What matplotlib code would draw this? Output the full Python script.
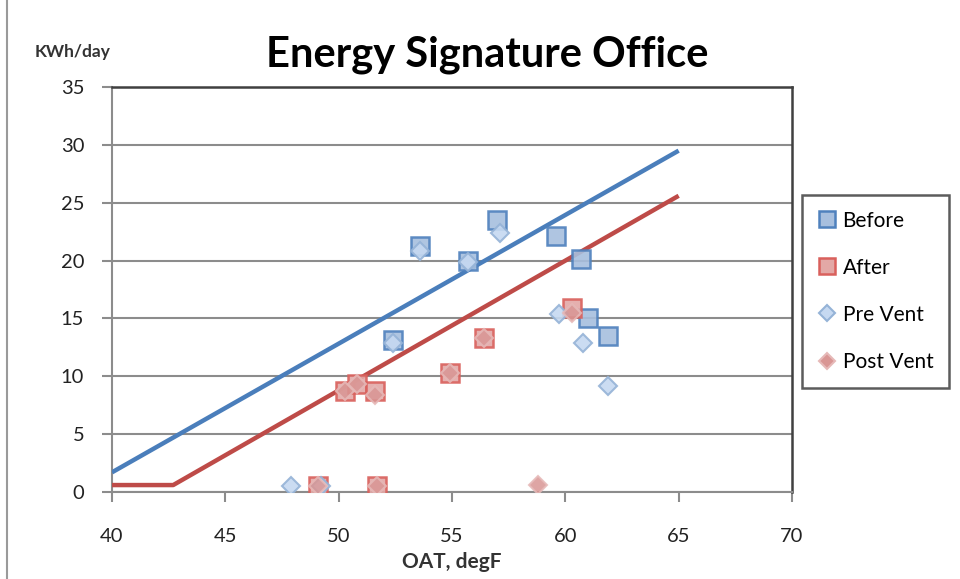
import matplotlib
matplotlib.use("Agg")
import matplotlib.pyplot as plt
from matplotlib.lines import Line2D

# ---- data ----
before_x = [53.6, 55.7, 57.0, 59.6, 60.7, 61.0, 61.9, 52.4]
before_y = [21.3, 20.0, 23.5, 22.1, 20.1, 15.0, 13.5, 13.1]

after_x = [50.3, 50.8, 51.6, 54.9, 56.4, 60.3, 49.1, 51.7]
after_y = [8.7, 9.3, 8.7, 10.3, 13.3, 15.9, 0.5, 0.5]

pre_x = [47.9, 49.2, 53.6, 55.7, 57.1, 52.4, 59.7, 60.8, 61.9]
pre_y = [0.5, 0.5, 20.8, 19.9, 22.4, 12.9, 15.4, 12.9, 9.2]

post_x = [60.3, 51.6, 58.8, 49.1, 51.7, 50.3, 50.8, 54.9, 56.4]
post_y = [15.5, 8.4, 0.6, 0.5, 0.5, 8.7, 9.3, 10.3, 13.3]

fit_before_x = [40, 65]
fit_before_y = [1.7, 29.5]
fit_after_x = [40, 42.7, 65]
fit_after_y = [0.6, 0.6, 25.6]

xticks = [40, 45, 50, 55, 60, 65, 70]
yticks = [0, 5, 10, 15, 20, 25, 30, 35]

FONT = "Lato"

fig = plt.figure(figsize=(9.6, 5.79), dpi=100)
ax = fig.add_axes([112/960, 1-492/579, (792-112)/960, (492-87)/579])

ax.plot(fit_before_x, fit_before_y, color="#4a7ebb", lw=3.2, zorder=3, solid_capstyle="butt")
ax.plot(fit_after_x, fit_after_y, color="#be4b48", lw=3.2, zorder=3, solid_capstyle="butt")

ax.plot(before_x, before_y, ls="none", marker="s", ms=13.5, mfc="#a7bfde", mec="#4f81bd", mew=1.8, alpha=0.9, zorder=4)
ax.plot(after_x, after_y, ls="none", marker="s", ms=13.5, mfc="#e3a8a6", mec="#d9605c", mew=1.8, alpha=0.9, zorder=4)
ax.plot(pre_x, pre_y, ls="none", marker="D", ms=9, mfc="#c6d9f1", mec="#95b3d7", mew=1.5, alpha=0.9, zorder=5)
ax.plot(post_x, post_y, ls="none", marker="D", ms=9, mfc="#d99694", mec="#e6b9b8", mew=1.5, alpha=0.85, zorder=5)

ax.set_xlim(40, 70)
ax.set_ylim(0, 35)
ax.set_xticks(xticks)
ax.set_yticks(yticks)
ax.grid(axis="y", color="#8c8c8c", lw=1.5, zorder=1)
ax.set_axisbelow(True)

for s in ["top", "right"]:
    ax.spines[s].set_color("#404040")
    ax.spines[s].set_linewidth(1.8)
for s in ["left", "bottom"]:
    ax.spines[s].set_color("#8c8c8c")
    ax.spines[s].set_linewidth(1.5)

ax.tick_params(axis="both", direction="out", length=7, width=1.5, color="#8c8c8c",
               labelsize=14.5, labelcolor="#222222")
ax.tick_params(axis="x", pad=19)
ax.tick_params(axis="y", pad=13)
for lab in ax.get_xticklabels() + ax.get_yticklabels():
    lab.set_family(FONT)

fig.text(452/960, 1-562/579, "OAT, degF", ha="center", va="center", fontsize=15,
         fontweight="bold", family=FONT, color="#333333")
fig.text(35/960, 1-52/579, "KWh/day", ha="left", va="center", fontsize=12.5,
         fontweight="bold", family=FONT, color="#333333")
fig.text(487/960, 1-55/579, "Energy Signature Office", ha="center", va="center",
         fontsize=30, fontweight="bold", family=FONT, color="black")

handles = [
    Line2D([], [], ls="none", marker="s", ms=12, mfc="#a7bfde", mec="#4f81bd", mew=1.8),
    Line2D([], [], ls="none", marker="s", ms=12, mfc="#e3a8a6", mec="#d9605c", mew=1.8),
    Line2D([], [], ls="none", marker="D", ms=8, mfc="#c6d9f1", mec="#95b3d7", mew=1.5),
    Line2D([], [], ls="none", marker="D", ms=8, mfc="#d99694", mec="#e6b9b8", mew=1.5),
]
leg = fig.legend(handles, ["Before", "After", "Pre Vent", "Post Vent"],
                 loc="upper left", bbox_to_anchor=(802/960, 1-195/579),
                 prop={"family": FONT, "size": 15}, frameon=True, fancybox=False,
                 edgecolor="#333333", labelspacing=1.3, handlelength=0.9,
                 handletextpad=0.3, borderpad=0.75, borderaxespad=0)
leg.get_frame().set_linewidth(1.8)

fig.add_artist(Line2D([7/960, 7/960], [0, 1], transform=fig.transFigure, color="#9a9a9a", lw=1.5))

fig.savefig("out.png", dpi=100)
